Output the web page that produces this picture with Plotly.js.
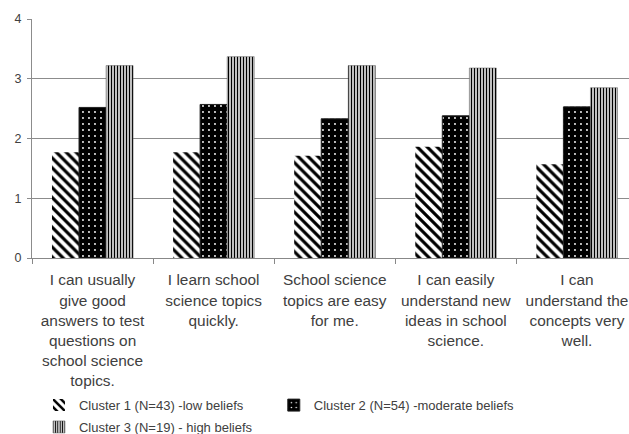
<!DOCTYPE html>
<html><head><meta charset="utf-8">
<script src="https://cdn.plot.ly/plotly-3.0.1.min.js"></script>
<style>html,body{margin:0;padding:0;background:#fff}</style>
</head><body><div id="chart" style="width:629px;height:434px"></div>
<script>
const categories = [
  "I can usually<br>give good<br>answers to test<br>questions on<br>school science<br>topics.",
  "I learn school<br>science topics<br>quickly.",
  "School science<br>topics are easy<br>for me.",
  "I can easily<br>understand new<br>ideas in school<br>science.",
  "I can<br>understand the<br>concepts very<br>well."
];
const seriesNames = ["Cluster 1 (N=43) -low beliefs", "Cluster 2 (N=54) -moderate beliefs", "Cluster 3 (N=19) - high beliefs"];
const cluster1 = [1.77, 1.77, 1.71, 1.86, 1.57];
const cluster2 = [2.52, 2.57, 2.33, 2.38, 2.53];
const cluster3 = [3.22, 3.37, 3.22, 3.18, 2.85];
const yTicks = [0, 1, 2, 3, 4];

const font = {family: "Liberation Sans, Arial, sans-serif", color: "#404040"};
const traces = [
  {type: "bar", name: seriesNames[0], x: categories, y: cluster1, legend: "legend",
   marker: {color: "#fff", line: {color: "#fff", width: 0},
            pattern: {shape: "\\", fgcolor: "#000", bgcolor: "#fff", size: 7, solidity: 0.45}}},
  {type: "bar", name: seriesNames[1], x: categories, y: cluster2, legend: "legend2",
   marker: {color: "#000", line: {color: "#222", width: 1},
            pattern: {shape: ".", fgcolor: "#fff", bgcolor: "#000", size: 6, solidity: 0.08}}},
  {type: "bar", name: seriesNames[2], x: categories, y: cluster3, legend: "legend3",
   marker: {color: "#fff", line: {color: "#555", width: 0.5},
            pattern: {shape: "|", fgcolor: "#000", bgcolor: "#fff", size: 3, solidity: 0.5}}}
];
const legendFont = Object.assign({size: 13}, font);
function leg(x, y) {
  return {orientation: "h", xref: "paper", yref: "container", x: x, xanchor: "left",
          y: y, yanchor: "top", font: legendFont, itemwidth: 30, bgcolor: "rgba(0,0,0,0)"};
}
const layout = {
  width: 629, height: 434,
  margin: {l: 32, r: 0, t: 19, b: 176},
  paper_bgcolor: "#fff", plot_bgcolor: "#fff",
  barmode: "group", bargap: 0.33, bargroupgap: 0,
  font: Object.assign({size: 13}, font),
  xaxis: {type: "category", range: [-0.5, 4.43], showgrid: false,
          showline: true, linecolor: "#888", linewidth: 1,
          ticks: "outside", tickson: "boundaries", ticklen: 5, tickcolor: "#888",
          ticklabelstandoff: 8,
          tickfont: Object.assign({size: 15.4}, font), automargin: false},
  yaxis: {range: [0, 4], tickvals: yTicks, showgrid: true, gridcolor: "#8c8c8c", gridwidth: 1,
          showline: true, linecolor: "#8c8c8c", linewidth: 1, zeroline: false,
          ticks: "outside", ticklen: 4, tickcolor: "#8c8c8c", ticklabelstandoff: 3,
          tickfont: Object.assign({size: 12.5}, font), automargin: false},
  showlegend: true,
  legend: leg(0.0117, 0.101),
  legend2: leg(0.405, 0.101),
  legend3: leg(0.0117, 0.0507)
};
Plotly.newPlot("chart", traces, layout, {displayModeBar: false, staticPlot: true});
</script></body></html>
